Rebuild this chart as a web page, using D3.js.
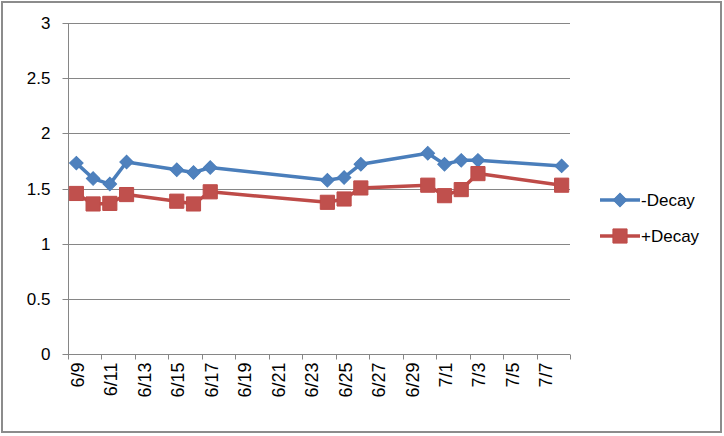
<!DOCTYPE html>
<html>
<head>
<meta charset="utf-8">
<script src="https://cdn.jsdelivr.net/npm/d3@7"></script>
<style>
  html, body { margin: 0; padding: 0; background: #fff; }
  svg { display: block; }
  text { font-family: "Liberation Sans", Arial, sans-serif; fill: #000; }
</style>
</head>
<body>
<svg id="chart" width="724" height="436"></svg>
<script>
// ---- data ----
const dates = ["6/9","6/10","6/11","6/12","6/15","6/16","6/17","6/24","6/25","6/26","6/30","7/1","7/2","7/3","7/8"];
const minusDecay = [1.73,1.59,1.54,1.74,1.67,1.645,1.69,1.575,1.60,1.72,1.82,1.72,1.755,1.755,1.705];
const plusDecay  = [1.455,1.36,1.365,1.445,1.385,1.36,1.47,1.375,1.405,1.505,1.53,1.435,1.49,1.635,1.53];
const seriesNames = ["-Decay", "+Decay"];
const xTickLabels = ["6/9","6/11","6/13","6/15","6/17","6/19","6/21","6/23","6/25","6/27","6/29","7/1","7/3","7/5","7/7"];
const yTicks = [0, 0.5, 1, 1.5, 2, 2.5, 3];

// ---- helpers ----
const startDate = Date.UTC(2000, 5, 9);
const dayIndex = s => { const [m, d] = s.split("/").map(Number); return (Date.UTC(2000, m - 1, d) - startDate) / 86400000; };

const svg = d3.select("#chart");
const pLeft = 68, pRight = 570, pTop = 23, pBottom = 354;

const x = d3.scaleLinear().domain([0, 30]).range([pLeft, pRight]);
const y = d3.scaleLinear().domain([0, 3]).range([pBottom, pTop]);

// chart border
svg.append("rect").attr("x", 2).attr("y", 2).attr("width", 719).attr("height", 430)
  .attr("fill", "#fff").attr("stroke", "#8c8c8c").attr("stroke-width", 2);

// gridlines
svg.append("g").selectAll("line").data(yTicks.filter(v => v > 0)).join("line")
  .attr("x1", pLeft).attr("x2", pRight)
  .attr("y1", d => Math.round(y(d)) + 0.5).attr("y2", d => Math.round(y(d)) + 0.5)
  .attr("stroke", "#868686").attr("stroke-width", 1);

// y axis
const yAxis = d3.axisLeft(y).tickValues(yTicks).tickSize(6).tickPadding(12).tickFormat(d => String(d));
const gy = svg.append("g").attr("transform", `translate(${pLeft + 0.5},0)`).call(yAxis);
gy.selectAll("path, line").attr("stroke", "#868686");
gy.selectAll("text").style("font-size", "17px").style("font-family", "'Liberation Sans', Arial, sans-serif");
gy.selectAll(".tick").attr("transform", d => `translate(0,${Math.round(y(d)) + 0.5})`);
gy.select(".domain").attr("d", `M0,${pTop}V${pBottom + 0.5}`);

// x axis (date axis, ticks every 2 days)
const tickDays = d3.range(0, 31, 2);
const gx = svg.append("g").attr("transform", `translate(0,${pBottom + 0.5})`);
gx.append("line").attr("x1", pLeft).attr("x2", pRight).attr("stroke", "#868686");
gx.selectAll("line.tk").data(tickDays).join("line").attr("class", "tk")
  .attr("x1", d => Math.round(x(d)) + 0.5).attr("x2", d => Math.round(x(d)) + 0.5)
  .attr("y1", 0).attr("y2", 5).attr("stroke", "#868686");
gx.selectAll("text").data(xTickLabels).join("text")
  .attr("transform", d => `translate(${x(dayIndex(d) + 0.5) + 7.5},8) rotate(-90)`)
  .attr("text-anchor", "end")
  .style("font-size", "18px")
  .text(d => d);

// series
const series = [
  { name: seriesNames[0], values: minusDecay, line: "#4A7EBB", fill: "#4F81BD", shape: d3.symbolSquare, size: 92, rot: 45 },
  { name: seriesNames[1], values: plusDecay, line: "#BE4B48", fill: "#C0504D", shape: d3.symbolSquare, size: 200, rot: 0 }
];
const lineGen = d3.line().x((d, i) => x(dayIndex(dates[i]) + 0.5)).y(d => y(d));

series.forEach(s => {
  const g = svg.append("g");
  g.append("path").datum(s.values).attr("d", lineGen)
    .attr("fill", "none").attr("stroke", s.line).attr("stroke-width", 3.5).attr("stroke-linejoin", "round");
  g.selectAll("path.m").data(s.values).join("path").attr("class", "m")
    .attr("transform", (d, i) => `translate(${x(dayIndex(dates[i]) + 0.5)},${y(d)}) rotate(${s.rot})`)
    .attr("d", d3.symbol().type(s.shape).size(s.size))
    .attr("fill", s.fill).attr("stroke", s.line).attr("stroke-width", 1);
});

// legend
const legend = svg.append("g");
series.forEach((s, i) => {
  const ly = 200 + i * 36;
  legend.append("line").attr("x1", 600).attr("x2", 640).attr("y1", ly).attr("y2", ly)
    .attr("stroke", s.line).attr("stroke-width", 3.5);
  legend.append("path").attr("transform", `translate(620,${ly}) rotate(${s.rot})`)
    .attr("d", d3.symbol().type(s.shape).size(s.size)).attr("fill", s.fill).attr("stroke", s.line);
  legend.append("text").attr("x", 641).attr("y", ly + 6).style("font-size", "17px").text(s.name);
});
</script>
</body>
</html>
